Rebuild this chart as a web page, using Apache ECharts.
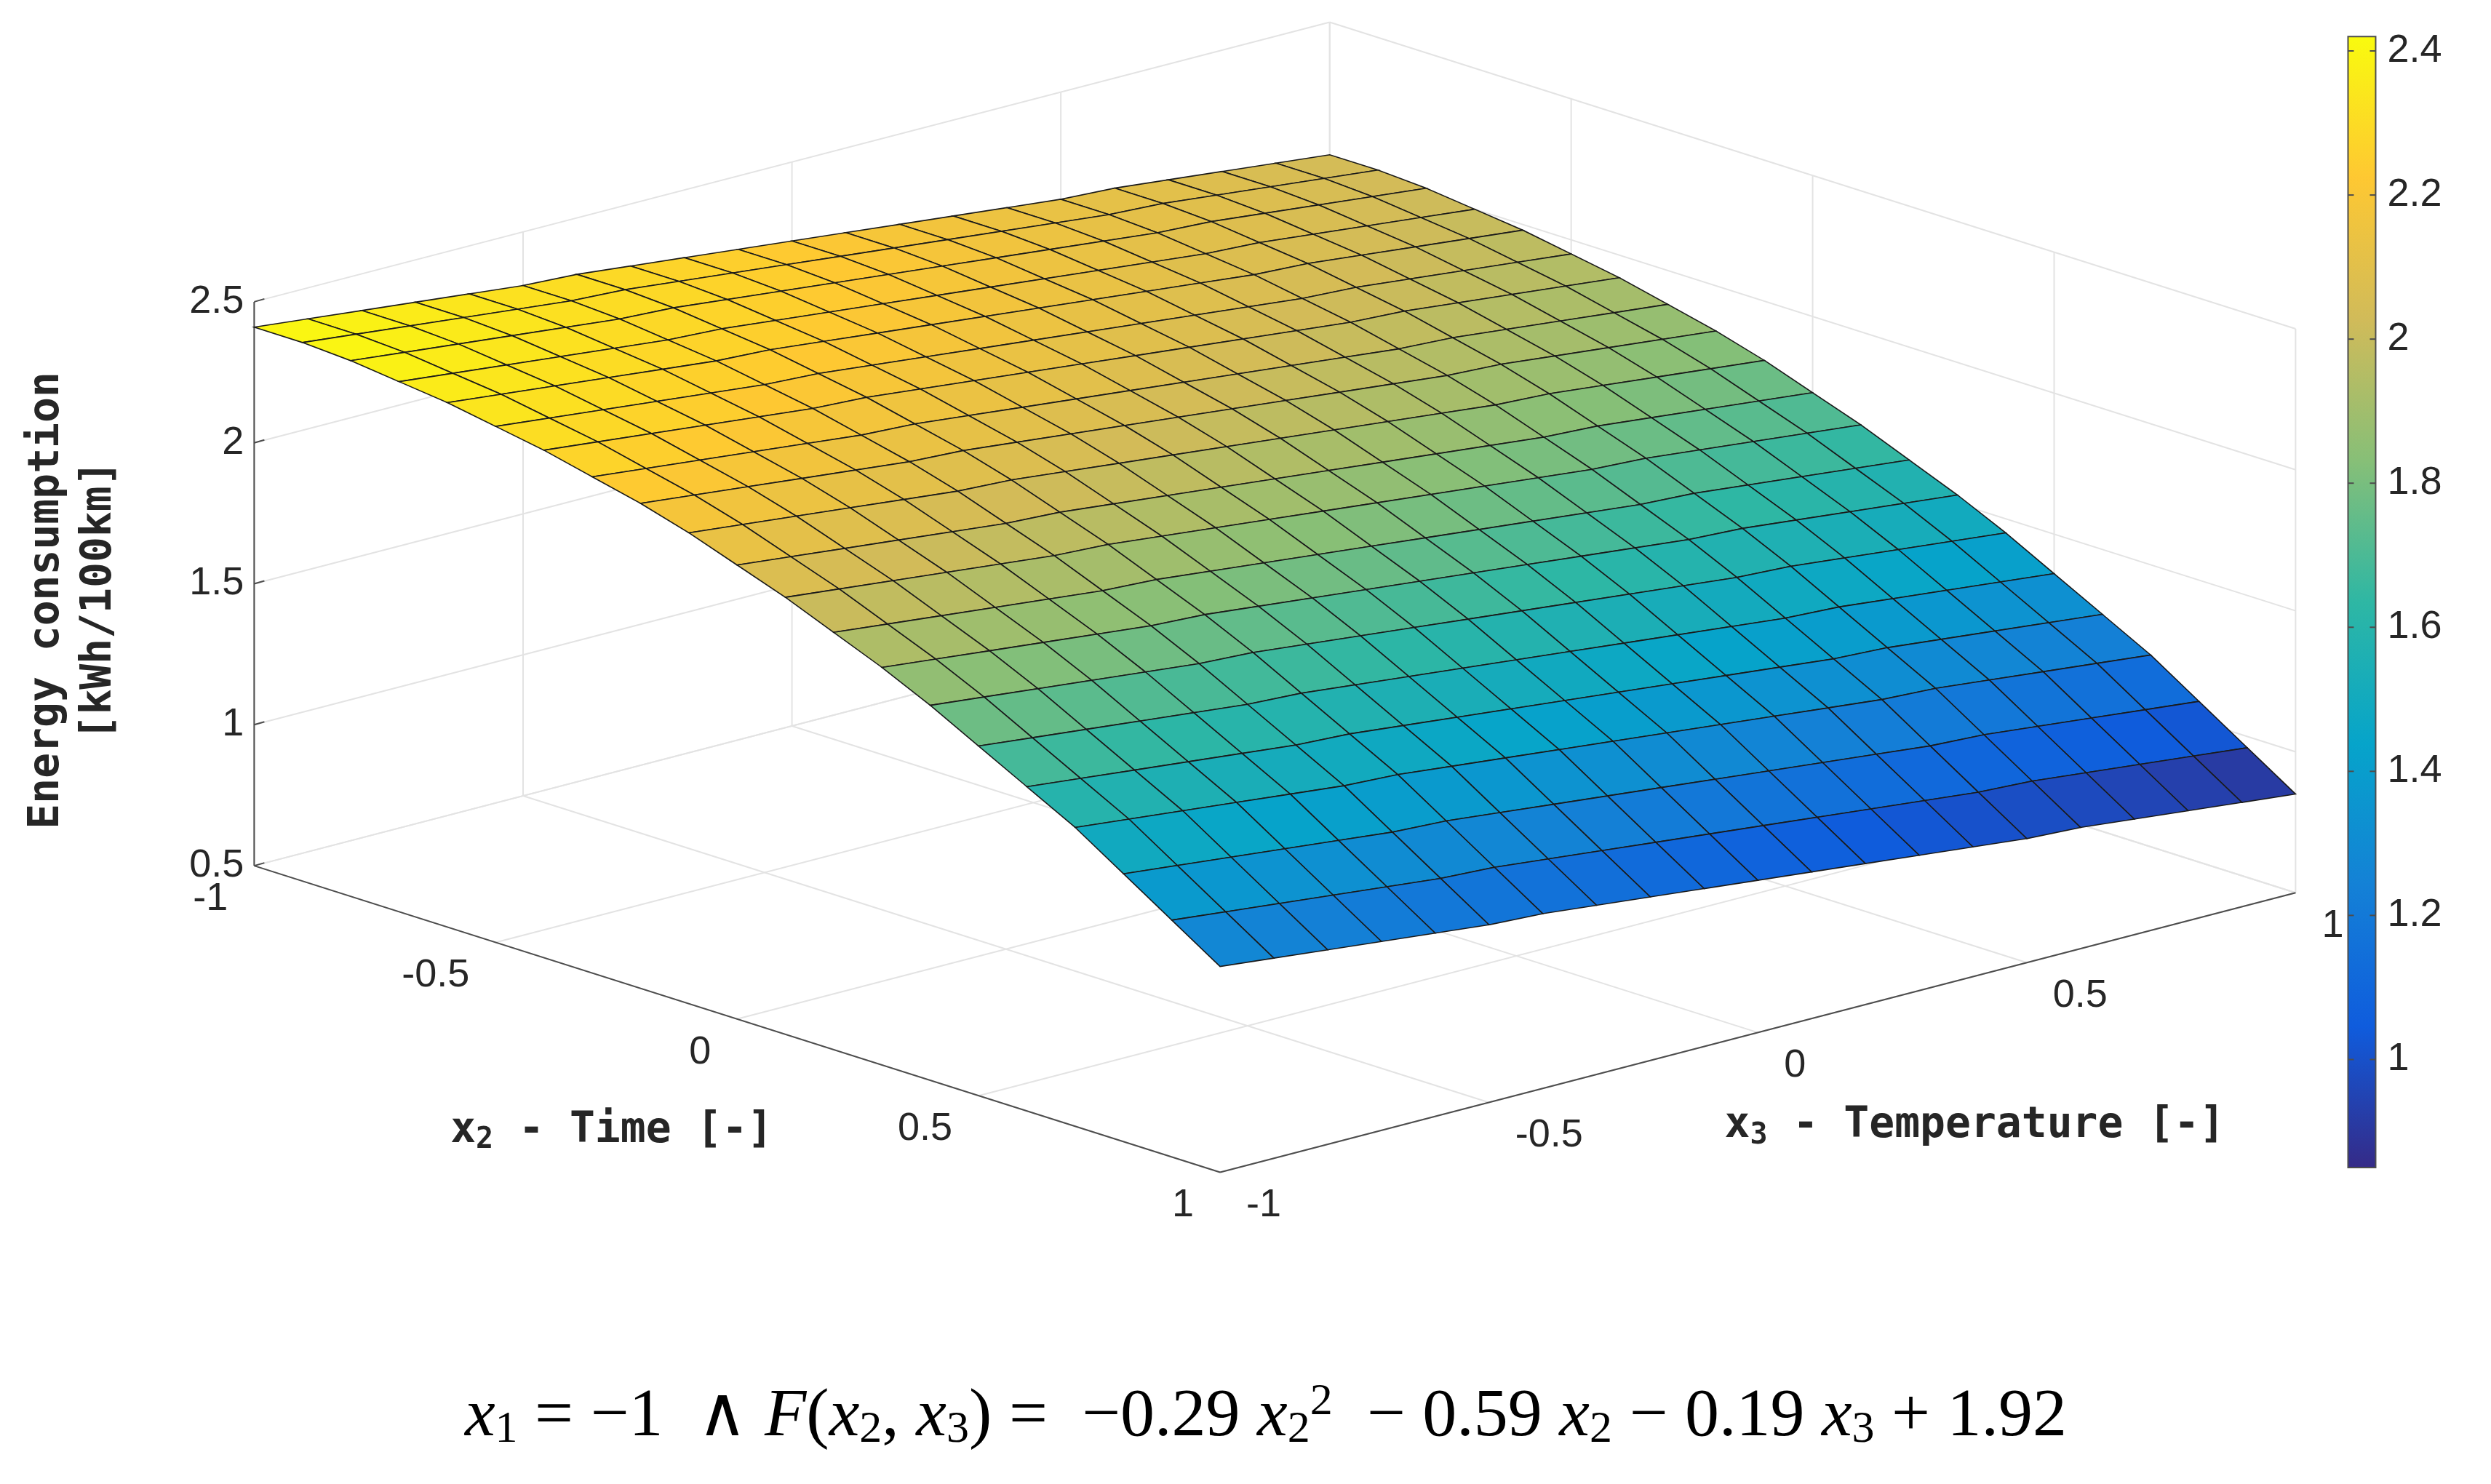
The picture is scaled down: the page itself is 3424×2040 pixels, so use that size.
<!DOCTYPE html>
<html>
<head>
<meta charset="utf-8">
<script src="https://cdn.jsdelivr.net/npm/echarts@6/dist/echarts.min.js"></script>
<style>html,body{margin:0;padding:0;background:#fff}#chart{width:3424px;height:2040px}</style>
</head>
<body>
<div id="chart"></div>
<script>
// grid of the surface
const x2Grid = [-1, -0.9, -0.8, -0.7, -0.6, -0.5, -0.4, -0.3, -0.2, -0.1, 0, 0.1, 0.2, 0.3, 0.4, 0.5, 0.6, 0.7, 0.8, 0.9, 1];
const x3Grid = [-1, -0.9, -0.8, -0.7, -0.6, -0.5, -0.4, -0.3, -0.2, -0.1, 0, 0.1, 0.2, 0.3, 0.4, 0.5, 0.6, 0.7, 0.8, 0.9, 1];
// energy consumption along the x3 = -1 edge, one per x2 grid value
const zEdge = [2.41, 2.41, 2.40, 2.38, 2.36, 2.33, 2.30, 2.26, 2.22, 2.17, 2.11, 2.05, 1.98, 1.91, 1.83, 1.74, 1.65, 1.56, 1.45, 1.34, 1.23];
// change of energy consumption along x3, one per x3 grid value
const x3Shift = [0, -0.02, -0.04, -0.06, -0.08, -0.10, -0.11, -0.13, -0.15, -0.17, -0.19, -0.21, -0.23, -0.25, -0.27, -0.29, -0.30, -0.32, -0.34, -0.36, -0.38];
const xTicks = [-1, -0.5, 0, 0.5, 1];
const zTicks = [0.5, 1, 1.5, 2, 2.5];
const cbTicks = [1, 1.2, 1.4, 1.6, 1.8, 2, 2.2, 2.4];
const parula = ['#352a87', '#0f5cdd', '#1481d6', '#06a4ca', '#2eb7a4', '#87bf77', '#d1bb59', '#fec832', '#f9fb0e'];

const S = 3424 / 1568;
function proj(x2, x3, z) {
  const a = (x2 + 1) / 2, b = (x3 + 1) / 2, c = (z - 0.5) / 2;
  return [S * (160 + 608 * a + 677 * b), S * (545 + 193 * a - 176 * b - 355 * c)];
}
const zAt = (i, j) => zEdge[i] + x3Shift[j];

const cells = [];
for (let i = 0; i < x2Grid.length - 1; i++) {
  for (let j = 0; j < x3Grid.length - 1; j++) {
    const avg = (zAt(i, j) + zAt(i + 1, j) + zAt(i, j + 1) + zAt(i + 1, j + 1)) / 4;
    cells.push([i, j, avg]);
  }
}
// far cells first
cells.sort((p, q) => (p[0] - p[1]) - (q[0] - q[1]));

const graphics = [];
const gridColor = '#e3e3e3';
const axisColor = '#4d4d4d';
const tickFont = '54px "Liberation Sans", Arial';
function line(p, q, color, w) {
  graphics.push({ type: 'line', silent: true, z: 1, shape: { x1: p[0], y1: p[1], x2: q[0], y2: q[1] }, style: { stroke: color, lineWidth: w } });
}
function text(str, pos, align, vAlign) {
  graphics.push({ type: 'text', x: pos[0], y: pos[1], z: 5,
    style: { text: str, textAlign: align, textVerticalAlign: vAlign, font: tickFont, fill: '#262626' } });
}
// back walls and floor grid
xTicks.forEach(t => {
  line(proj(t, -1, 0.5), proj(t, 1, 0.5), gridColor, 2);
  line(proj(-1, t, 0.5), proj(1, t, 0.5), gridColor, 2);
  line(proj(-1, t, 0.5), proj(-1, t, 2.5), gridColor, 2);
  line(proj(t, 1, 0.5), proj(t, 1, 2.5), gridColor, 2);
});
zTicks.forEach(z => {
  line(proj(-1, -1, z), proj(-1, 1, z), gridColor, 2);
  line(proj(-1, 1, z), proj(1, 1, z), gridColor, 2);
});
// axis lines
line(proj(-1, -1, 0.5), proj(-1, -1, 2.5), axisColor, 2);
line(proj(-1, -1, 0.5), proj(1, -1, 0.5), axisColor, 2);
line(proj(1, -1, 0.5), proj(1, 1, 0.5), axisColor, 2);
// tick labels
zTicks.forEach(z => {
  const p = proj(-1, -1, z);
  line(p, [p[0] + 14, p[1] - 4], axisColor, 2);
  text(String(z), [p[0] - 14, p[1]], 'right', 'middle');
});
xTicks.forEach(t => {
  const p = proj(t, -1, 0.5);
  text(String(t), [p[0] - 36, p[1] + 46], 'right', 'middle');
  const q = proj(1, t, 0.5);
  text(String(t), [q[0] + 36, q[1] + 46], 'left', 'middle');
});
const titleFont = 'bold 58px "DejaVu Sans Mono", "Liberation Mono", monospace';
const subFont = 'bold 40px "DejaVu Sans Mono", monospace';
graphics.push({ type: 'text', x: S * 385, y: S * 712, z: 5, style: {
  text: '{b|x}{s|2}{b| - Time [-]}', textAlign: 'center', textVerticalAlign: 'middle',
  rich: { b: { font: titleFont, fill: '#262626' }, s: { font: subFont, fill: '#262626', padding: [26, 0, 0, 0] } } } });
graphics.push({ type: 'text', x: S * 1243, y: S * 709, z: 5, style: {
  text: '{b|x}{s|3}{b| - Temperature [-]}', textAlign: 'center', textVerticalAlign: 'middle',
  rich: { b: { font: titleFont, fill: '#262626' }, s: { font: subFont, fill: '#262626', padding: [26, 0, 0, 0] } } } });
graphics.push({ type: 'text', x: S * 46, y: S * 378, rotation: Math.PI / 2, z: 5, style: {
  text: 'Energy consumption\n[kWh/100km]', textAlign: 'center', textVerticalAlign: 'middle',
  font: titleFont, fill: '#262626', lineHeight: 72 } });
// colorbar drawn with the same colour scale
const cbMin = 0.85, cbMax = 2.42;
const cbTop = S * 23, cbBottom = S * 735, cbLeft = S * 1478, cbW = 38;
const cbY = v => cbBottom - (v - cbMin) / (cbMax - cbMin) * (cbBottom - cbTop);
graphics.push({ type: 'rect', z: 6, silent: true, shape: { x: cbLeft, y: cbTop, width: cbW, height: cbBottom - cbTop },
  style: { fill: new echarts.graphic.LinearGradient(0, 1, 0, 0, parula.map((c, k) => ({ offset: k / (parula.length - 1), color: c }))),
    stroke: axisColor, lineWidth: 2 } });
cbTicks.forEach(v => {
  const y = cbY(v);
  graphics.push({ type: 'line', z: 7, shape: { x1: cbLeft, y1: y, x2: cbLeft + 8, y2: y }, style: { stroke: axisColor, lineWidth: 2 } });
  graphics.push({ type: 'line', z: 7, shape: { x1: cbLeft + cbW - 8, y1: y, x2: cbLeft + cbW, y2: y }, style: { stroke: axisColor, lineWidth: 2 } });
  text(String(v), [cbLeft + cbW + 16, y], 'left', 'middle');
});
// formula
const mi = 'italic 94px "Liberation Serif", "DejaVu Serif", serif';
const mr = '94px "Liberation Serif", "DejaVu Serif", serif';
const ms = '62px "Liberation Serif", serif';
graphics.push({ type: 'text', x: 1740, y: S * 892, z: 5, style: {
  text: '{i|x}{s|1}{r| = −1  ∧ }{i|F}{r|(}{i|x}{s|2}{r|, }{i|x}{s|3}{r|) =  −0.29 }{i|x}{s|2}{s2|2}{r|  − 0.59 }{i|x}{s|2}{r| − 0.19 }{i|x}{s|3}{r| + 1.92}',
  textAlign: 'center', textVerticalAlign: 'middle',
  rich: {
    i: { font: mi, fill: '#000' }, r: { font: mr, fill: '#000' },
    s: { font: ms, fill: '#000', padding: [36, 0, 0, 0] },
    s2: { font: ms, fill: '#000', padding: [0, 0, 40, 0] }
  } } });

const chart = echarts.init(document.getElementById('chart'));
chart.setOption({
  backgroundColor: '#fff',
  animation: false,
  visualMap: {
    type: 'continuous', show: false, min: cbMin, max: cbMax, dimension: 2, seriesIndex: 0,
    inRange: { color: parula }
  },
  graphic: graphics,
  series: [{
    type: 'custom',
    coordinateSystem: 'none',
    data: cells,
    z: 3,
    renderItem(params, api) {
      const i = api.value(0), j = api.value(1);
      const pts = [
        proj(x2Grid[i], x3Grid[j], zAt(i, j)),
        proj(x2Grid[i + 1], x3Grid[j], zAt(i + 1, j)),
        proj(x2Grid[i + 1], x3Grid[j + 1], zAt(i + 1, j + 1)),
        proj(x2Grid[i], x3Grid[j + 1], zAt(i, j + 1))
      ];
      return { type: 'polygon', shape: { points: pts }, style: { fill: api.visual('color'), stroke: '#1a1a1a', lineWidth: 1.6 } };
    }
  }]
});
</script>
</body>
</html>
